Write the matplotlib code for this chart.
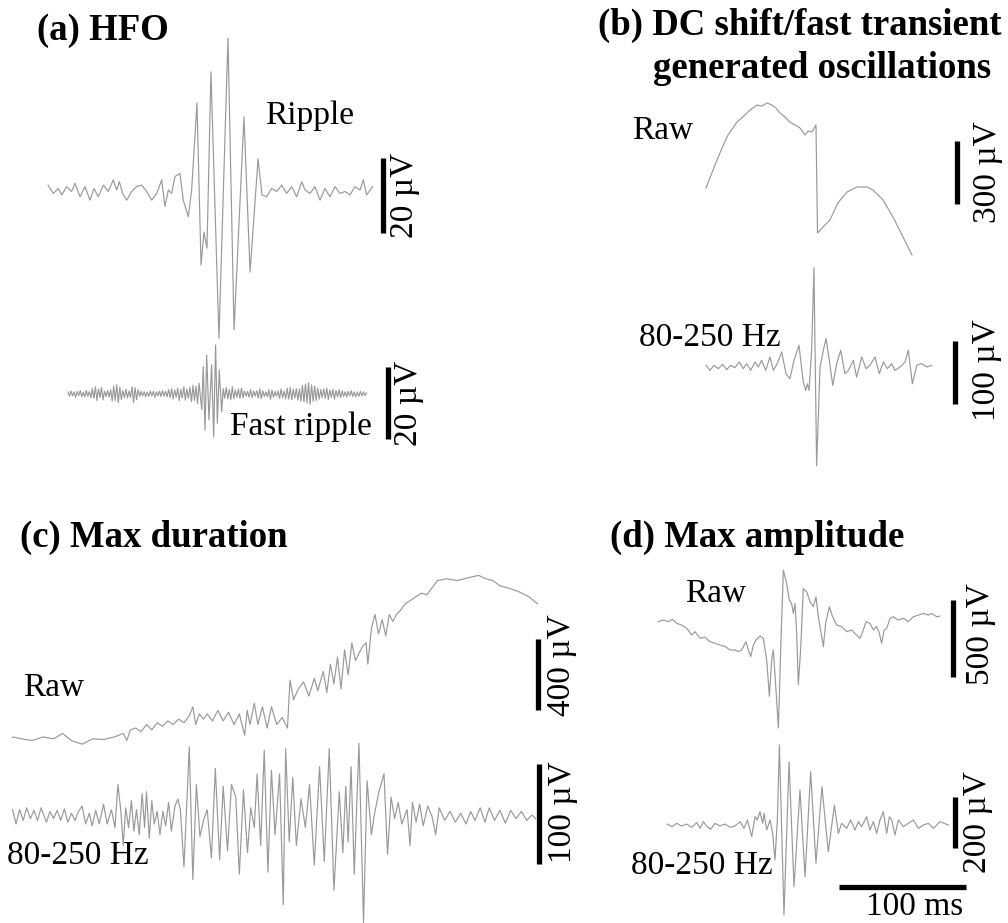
import numpy as np
import matplotlib
matplotlib.use("Agg")
import matplotlib.pyplot as plt

# ---------------- data (time in ms, amplitude in µV) ----------------
# (a) HFO - ripple
ripple_t = [0, 4.2, 8.1, 10.8, 14.7, 18.6, 21.3, 25.2, 29.1, 33.1, 36.2, 39.6, 43.6, 47.5, 51.4, 54.1,
            56.2, 58.8, 62.0, 65.9, 69.8, 73.8, 77.7, 81.6, 85.6, 89.5, 92.1, 94.8, 97.4, 100.0, 103.9,
            106.5, 110.5, 113.1, 117.3, 120.5, 122.8, 125.2, 128.3, 134.6, 141.7, 146.5, 154.3, 159.1,
            165.4, 168.5, 172.2, 176.1, 180.1, 184.0, 187.9, 191.9, 195.8, 199.8, 202.4, 206.3, 210.2,
            214.2, 218.1, 222.0, 226.0, 229.9, 233.9, 237.8, 241.7, 245.7, 248.3, 250.9, 255.7]
ripple_v = [1.3, -0.9, 0.4, -1.3, 0.9, -0.4, 1.8, -1.8, 0.9, -2.7, 0.4, -1.8, 1.3, -0.4, 2.7, 0,
            2.2, -0.9, -2.7, -0.4, 0.9, 1.3, -0.4, -2.7, -0.9, 2.7, -4.4, 0, -0.9, 3.6, 4.4,
            -2.7, -7.1, 0, 23.2, -20, -11.2, -15.5, 31.5, -39.5, 40.5, -37.3, 19.5, -21.9,
            8.3, -1.3, -1.8, 0.4, -0.4, 1.3, -0.9, 0.9, -1.8, 2.2, 0, -0.9, 0.9,
            -2.7, 0.4, -1.8, 0.9, -0.9, -0.4, -1.3, 0.9, 0, 2.7, -1.3, 0.9]

# (a) HFO - fast ripple (background sampled every fr_dt ms, burst read point by point)
fr_dt = 1.2
fr_pre_v = [0.5, -0.6, 0.8, -0.5, 0.6, -0.9, 0.7, -0.4, 0.9, -0.7, 0.5, -0.8, 1.0, -0.6, 0.7, -1.0,
            1.5, -1.2, 2.0, -1.8, 1.4, -1.0, 1.8, -1.6,
            0.8, -0.7, 1.0, -0.9, 1.2,
            -2.0, 2.2, -1.8, 2.6, -2.4, 1.9, -1.5,
            0.9, -1.0, 1.3, -1.1, 0.8, -0.9,
            2.0, -2.3, 1.8, -1.6, 1.2,
            -0.6, 0.7, -0.5, 0.6, -0.8, 0.5, -0.6, 0.8, -0.5, 0.7, -0.9, 0.6, -0.5, 0.8, -0.7, 0.9, -0.6, 0.7, -0.8,
            1.2, -1.0, 1.5, -1.4, 1.1, -0.9, 1.6, -1.8, 1.3, -1.1, 2.0, -1.7, 1.4, -1.2, 1.9, -2.1, 2.4, -1.8, 2.2, -2.6, 3.0]
fr_burst_t = [105.3, 106.5, 107.9, 109.2, 111.0, 113.1, 114.7, 116.2, 117.6, 119.1, 121.0]
fr_burst_v = [-4.4, 7.6, -10.0, 10.8, -7.2, 8.1, -11.9, 13.6, -8.1, 6.7, -5.0]
fr_post_start = 122.2
fr_post_v = [1.5, -1.2, 1.8, -1.4, 1.2, -1.6, 2.0, -1.3, 1.1, -0.9, 1.4, -1.2, 1.6, -1.0, 0.8,
             -0.6, 0.7, -0.9, 1.2, -1.0, 0.8, -0.6, 0.9, -1.1, 1.4, -1.3, 0.9, -0.7,
             0.6, -0.8, 1.2, -1.5, 1.1, -0.9, 0.7, -0.6, 0.9, -1.2, 1.4, -1.0, 0.8,
             -1.3, 1.6, -1.4, 1.8, -1.6, 1.3, -1.1, 1.5, -1.7, 1.4,
             -2.0, 2.4, -2.2, 2.8, -2.5, 3.1, -2.9, 2.5, -2.0, 2.2, -1.8, 1.6, -1.4, 1.2,
             -1.0, 1.4, -1.2, 1.6, -1.5, 1.1, -0.9, 1.3, -1.4, 1.0, -0.8, 1.2, -1.0, 0.9, -0.7,
             0.6, -0.8, 0.7, -0.5, 0.9, -0.7, 0.6, -0.8, 0.5, -0.6, 0.7, -0.5, 0.6, -0.4, 0.3]

# (b) DC shift / fast transient
dc_raw_t = [0, 7.1, 12.6, 17.3, 24.4, 30.7, 34.6, 40.2, 44.1, 48.0, 52.0, 55.1, 58.3, 62.2, 66.1, 70.1,
            74.0, 78.0, 80.3, 83.5, 86.6, 87.8, 92.1, 97.6, 103.9, 111.0, 118.9, 126.8, 131.5, 139.4,
            147.2, 155.1, 162.2]
dc_raw_v = [0, 110, 190, 252, 314, 348, 371, 395, 390, 405, 395, 381, 357, 338, 314, 300,
            286, 252, 271, 267, 300, -214, -186, -152, -71, -19, 5, 5, -10, -57,
            -138, -233, -319]
dc_filt_t = [0, 3.1, 6.3, 9.7, 13.1, 16.3, 19.4, 22.8, 26.2, 29.4, 32.0, 35.2, 38.6, 41.2, 43.8, 47.0,
             50.4, 53.0, 56.1, 59.6, 63.0, 66.1, 69.3, 73.2, 76.6, 78.5, 79.8, 81.1, 83.2, 85.0, 87.1,
             89.8, 92.4, 94.5, 97.1, 99.8, 102.9, 106.1, 109.4, 112.1, 116.0, 118.6, 122.6, 126.0,
             129.1, 133.1, 136.5, 139.6, 142.8, 146.2, 148.8, 152.8, 156.7, 159.3, 162.5, 166.0,
             169.8, 173.8, 177.7]
dc_filt_v = [2.6, -5.3, 2.6, -2.6, 4.2, -4.2, 2.6, -1.1, 7.9, -2.6, 5.3, -5.3, 7.9, 0, 10.6, -5.3,
             15.9, -5.3, 5.3, 23.8, -10.6, -18.5, 10.6, 34.4, -23.8, -37.0, -26.5, -37.0, 26.5, 157, -156,
             0, 26.5, 45.0, 10.6, -29.1, 5.3, 26.5, -10.6, -5.3, 10.6, -15.9, 15.9, -2.6,
             2.6, 15.9, -10.6, 7.9, -2.6, 5.3, -5.3, 0, 7.9, 26.5, -26.5, 2.6,
             5.3, 0, 2.6]

# (c) Max duration
dur_raw_t = [0, 7.0, 15.5, 23.9, 32.3, 39.4, 46.4, 54.8, 63.3, 71.7, 80.1, 87.2, 90.0, 92.8, 97.0, 101.2,
             105.5, 109.7, 113.9, 118.1, 122.3, 126.5, 130.8, 135.0, 139.2, 142.0, 144.3, 147.1, 150.4,
             153.3, 157.5, 161.7, 165.9, 170.1, 174.4, 178.6, 182.8, 184.8, 187.0, 190.4, 193.2, 196.8,
             200.5, 203.9, 208.1, 212.3, 216.5, 218.5, 221.3, 225.0, 229.2, 233.4, 237.6, 240.4, 244.7,
             247.5, 250.3, 253.1, 255.9, 258.7, 261.5, 264.3, 267.2, 270.0, 272.8, 275.6, 278.4, 279.8,
             282.6, 285.4, 288.2, 291.1, 293.9, 296.7, 299.5, 302.3, 305.1, 309.3, 313.6, 317.8, 322.0,
             326.2, 330.4, 334.6, 341.7, 350.1, 358.5, 367.0, 372.6, 378.2, 383.9, 389.5, 397.9, 406.4,
             413.4]
dur_raw_v = [0, -10, -20, 0, -10, 20, -20, -40, -10, -14, 0, 20, -20, 40, 50, 30,
             70, 40, 80, 60, 90, 70, 100, 80, 119, 169, 70, 129, 100,
             129, 90, 149, 90, 139, 70, 129, 10, 149, 70, 189, 70, 169,
             50, 169, 70, 109, 50, 318, 209, 269, 308, 229, 328, 259, 368,
             249, 408, 298, 448, 269, 488, 348, 527, 428, 468, 507, 527, 408,
             607, 686, 577, 657, 567, 686, 647, 686, 706, 746, 766, 786, 806,
             796, 836, 876, 886, 876, 891, 905, 886, 876, 846, 836, 816, 786,
             746]
dur_filt_t = [0, 2.8, 5.6, 8.4, 11.2, 14.1, 16.9, 19.7, 22.5, 26.7, 29.5, 32.3, 35.2, 38.0, 40.8, 43.6,
              46.4, 49.2, 52.0, 54.8, 57.6, 60.5, 62.7, 65.5, 68.3, 71.7, 74.5, 77.9, 80.7, 83.0, 85.2,
              87.2, 89.1, 91.4, 93.6, 95.6, 97.6, 99.8, 102.1, 104.0, 105.5, 107.7, 109.7, 111.6, 113.9,
              116.1, 118.4, 120.6, 122.9, 125.1, 127.9, 130.2, 132.2, 135.0, 139.2, 142.0, 144.8, 147.6,
              150.4, 153.3, 156.6, 159.7, 163.1, 165.9, 169.3, 172.4, 175.8, 178.6, 181.9, 185.0, 187.6,
              190.4, 192.6, 195.4, 198.2, 201.1, 203.9, 206.7, 210.3, 213.2, 215.1, 217.9, 220.7, 223.5,
              227.2, 230.6, 233.9, 237.6, 241.8, 245.5, 249.4, 253.1, 255.9, 257.3, 260.1, 262.4, 264.3,
              266.6, 269.1, 272.8, 276.4, 279.2, 282.6, 284.9, 288.2, 292.5, 295.3, 298.1, 300.9, 303.7,
              306.5, 310.7, 313.0, 314.9, 317.8, 320.6, 323.4, 327.0, 330.4, 333.2, 336.0, 340.3, 344.5,
              348.7, 352.9, 357.1, 360.8, 364.1, 368.3, 372.0, 375.4, 379.6, 383.8, 388.1, 392.3, 396.5,
              400.7, 404.9, 409.1, 411.9]
dur_filt_v = [5.4, -9.0, 5.4, -5.4, 7.2, -3.6, 4.7, -5.4, 7.2, -7.2, 3.6, -3.6, 4.7, -5.4, 6.1, -7.2,
              1.8, -5.4, 3.6, 9.0, -9.0, 1.8, -10.8, 4.7, -9.0, 10.8, -9.0, 5.4, -12.5, 30.5, 5.4,
              -30.5, 7.2, -12.5, 14.3, -16.1, 5.4, -19.7, 21.5, -12.5, 23.3, -23.3, 14.3, -9.0, 3.6,
              -19.7, 3.6, -10.8, 12.5, -16.1, 9.0, 16.1, 5.4, -52.0, 68.1, -64.5, 30.5, -21.5,
              -5.4, 5.4, -43.0, 46.6, -44.8, 28.7, -35.8, 30.5, 17.9, -59.1, 25.1, -37.6, 7.2,
              -12.5, 41.2, -30.5, 64.5, -57.3, 44.8, -19.7, 41.2, -89.6, 66.3, -26.9, 37.6, -30.5,
              16.1, -12.5, 30.5, -50.2, 48.4, -46.6, 66.3, -75.3, -9.0, 23.3, -37.6, 28.7, -26.9,
              48.4, -59.1, 71.7, -107.5, 34.1, -19.7, 0, 21.5, 41.2, -39.4, 17.9, -3.6, 12.5,
              -9.0, 5.4, -30.5, 12.5, -7.2, 10.8, -10.8, 9.0, -1.8, -19.7, 7.2, -5.4, 3.6,
              -7.2, 1.8, -9.0, 3.6, -5.4, 7.2, -7.2, 7.2, -5.4, 4.7, -8.2, 4.7, -3.6,
              3.6, -5.4, 0, -3.6]

# (d) Max amplitude
amp_raw_t = [0, 4.2, 8.1, 11.3, 14.7, 18.6, 22.6, 26.5, 29.1, 33.1, 37.0, 40.9, 44.9, 48.8, 52.8, 56.7,
             60.6, 63.3, 65.9, 69.3, 71.1, 73.0, 75.1, 77.2, 80.3, 82.9, 85.6, 87.7, 89.5, 90.8, 92.9,
             94.8, 96.6, 98.7, 101.3, 103.4, 105.2, 106.6, 107.9, 109.2, 110.5, 112.3, 114.4, 117.1,
             119.7, 122.3, 124.4, 126.2, 128.9, 130.2, 132.0, 134.9, 137.5, 140.7, 144.6, 148.6, 152.5,
             156.4, 159.1, 161.7, 163.8, 166.9, 169.6, 172.2, 174.3, 176.1, 178.0, 180.1, 182.7, 185.3,
             189.2, 193.2, 197.1, 201.0, 205.0, 208.9, 212.9, 215.5, 219.4, 222.0]
amp_raw_v = [0, 10.8, 0, 15.2, -10.8, -21.7, -43.3, -86.6, -64.9, -108, -101, -130, -141, -152, -162, -184,
             -184, -195, -184, -130, -184, -227, -152, -119, -93, -108, -249, -487, -249, -184, -444,
             -693, -184, 336, 249, 141, 119, 54, 119, -76, -411, -184, 216, 195,
             130, 97, 162, 32, -97, -162, -11, 97, 32, -22, -32, -65, -54,
             -87, -108, -54, 0, -11, -54, -32, -76, -141, -54, -43, 22, 32,
             11, 22, 0, 32, 43, 54, 43, 54, 32, 37]
amp_filt_t = [0, 3.7, 7.6, 11.5, 15.5, 19.4, 23.4, 26.0, 28.6, 31.2, 34.4, 37.8, 41.7, 45.7, 49.6, 53.5,
              57.5, 60.6, 63.3, 66.7, 69.3, 71.1, 73.2, 75.3, 76.4, 78.5, 81.1, 83.2, 85.0, 86.9, 88.5,
              92.1, 96.1, 100.0, 104.7, 108.7, 113.1, 117.3, 122.0, 127.0, 131.8, 134.9, 137.5, 141.5,
              144.6, 148.0, 150.7, 153.3, 157.2, 159.8, 162.5, 165.1, 167.7, 170.3, 173.0, 175.1, 176.9,
              179.5, 182.2, 186.1, 190.0, 194.0, 197.9, 201.8, 205.8, 209.7, 215.0, 221.5]
amp_filt_v = [3.9, -6.5, 6.5, -3.9, 3.9, -9.2, 9.2, -13.1, 13.1, -3.9, -17.0, 6.5, -3.9, 3.9, -9.2, -3.9,
              13.1, -13.1, 19.6, -45.7, 32.7, 19.6, 52.3, 6.5, 45.7, -19.6, 19.6, -32.7, -137, 19.6, 314,
              -353, 248, -242, 137, -203, 209, -150, 150, -105, 78, -33, 6.5, -13.1,
              19.6, -19.6, 13.1, -6.5, 32.7, -19.6, 13.1, -32.7, 19.6, 52.3, -32.7, 32.7, 19.6,
              -39.2, 19.6, -6.5, 6.5, 19.6, -13.1, 0, 6.5, -13.1, 13.1, 0]

# scale bar sizes
bar_ripple_uv = 20
bar_fast_uv = 20
bar_dc_raw_uv = 300
bar_dc_filt_uv = 100
bar_dur_raw_uv = 400
bar_dur_filt_uv = 100
bar_amp_raw_uv = 500
bar_amp_filt_uv = 200
bar_time_ms = 100

# ---------------- drawing ----------------
W, H = 1008, 923
fig = plt.figure(figsize=(W / 100, H / 100), dpi=100)
fig.patch.set_facecolor("white")

SERIF = ["Liberation Serif", "DejaVu Serif"]
TRACE = "#999999"
TLW = 0.85
PXMS = 1.27  # pixels per ms
TITLE_FS = 26.5
LABEL_FS = 24


def trace_ax(x0, ybase, pxuv, box):
    l, t, r, b = box
    ax = fig.add_axes([l / W, 1 - b / H, (r - l) / W, (b - t) / H])
    ax.set_xlim((l - x0) / PXMS, (r - x0) / PXMS)
    ax.set_ylim((ybase - b) / pxuv, (ybase - t) / pxuv)
    ax.axis("off")
    ax.patch.set_alpha(0)
    return ax


def draw_trace(ax, t, v):
    ax.plot(t, v, color=TRACE, lw=TLW, solid_joinstyle="round", clip_on=False)


def vbar(ax, x0, ybase, pxuv, xpx, ybot_px, amount):
    tb = (xpx - x0) / PXMS
    vb = (ybase - ybot_px) / pxuv
    ax.plot([tb, tb], [vb, vb + amount], color="black", lw=3.8,
            solid_capstyle="butt", clip_on=False)


def txt(x, y, s, size=LABEL_FS, weight="normal", rot=0, ha="center"):
    fig.text(x / W, 1 - y / H, s, fontsize=size, fontweight=weight, family=SERIF,
             rotation=rot, ha=ha, va="center")


# (a) ripple
ax = trace_ax(48, 190, 3.75, (40, 30, 420, 345))
draw_trace(ax, ripple_t, ripple_v)
vbar(ax, 48, 190, 3.75, 383, 233, bar_ripple_uv)

# (a) fast ripple
fr_pre_t = np.arange(len(fr_pre_v)) * fr_dt
fr_post_t = fr_post_start + np.arange(len(fr_post_v)) * fr_dt
fr_t = np.concatenate([fr_pre_t, fr_burst_t, fr_post_t])
fr_v = np.concatenate([fr_pre_v, fr_burst_v, fr_post_v])
ax = trace_ax(68, 394, 3.6, (60, 340, 420, 450))
draw_trace(ax, fr_t, fr_v)
vbar(ax, 68, 394, 3.6, 388, 439, bar_fast_uv)

# (b) raw
ax = trace_ax(706, 188, 0.21, (690, 90, 1000, 270))
draw_trace(ax, dc_raw_t, dc_raw_v)
vbar(ax, 706, 188, 0.21, 957, 204, bar_dc_raw_uv)

# (b) filtered
ax = trace_ax(706, 367, 0.633, (690, 260, 1000, 470))
draw_trace(ax, dc_filt_t, dc_filt_v)
vbar(ax, 706, 367, 0.633, 955, 404, bar_dc_filt_uv)

# (c) raw
ax = trace_ax(12.5, 737, 0.1786, (5, 570, 560, 750))
draw_trace(ax, dur_raw_t, dur_raw_v)
vbar(ax, 12.5, 737, 0.1786, 538, 710, bar_dur_raw_uv)

# (c) filtered
ax = trace_ax(12.5, 815, 1.0, (5, 740, 560, 925))
draw_trace(ax, dur_filt_t, dur_filt_v)
vbar(ax, 12.5, 815, 1.0, 539, 864, bar_dur_filt_uv)

# (d) raw
ax = trace_ax(658, 621.7, 0.1533, (650, 560, 1000, 740))
draw_trace(ax, amp_raw_t, amp_raw_v)
vbar(ax, 658, 621.7, 0.1533, 953, 677, bar_amp_raw_uv)

# (d) filtered
ax = trace_ax(667, 825, 0.255, (650, 730, 1000, 923))
draw_trace(ax, amp_filt_t, amp_filt_v)
vbar(ax, 667, 825, 0.255, 955, 848, bar_amp_filt_uv)
# time scale bar (100 ms)
tb0 = (839 - 667) / PXMS
yb = (825 - 887) / 0.255
ax.plot([tb0, tb0 + bar_time_ms], [yb, yb], color="black", lw=3.8,
        solid_capstyle="butt", clip_on=False)

# ---------------- texts ----------------
txt(37, 31, "(a) HFO", size=TITLE_FS, weight="bold", ha="left")
txt(800, 25, "(b) DC shift/fast transient", size=TITLE_FS, weight="bold")
txt(822, 69, "generated oscillations", size=TITLE_FS, weight="bold")
txt(20, 537, "(c) Max duration", size=TITLE_FS, weight="bold", ha="left")
txt(610, 537, "(d) Max amplitude", size=TITLE_FS, weight="bold", ha="left")

txt(310, 116, "Ripple")
txt(301, 427, "Fast ripple")
txt(663, 131, "Raw")
txt(710, 338, "80-250 Hz")
txt(54, 688, "Raw")
txt(78, 856, "80-250 Hz")
txt(716, 594, "Raw")
txt(702, 866, "80-250 Hz")
txt(915, 907, "100 ms")

txt(405, 195, "20 µV", rot=90)
txt(409, 403, "20 µV", rot=90)
txt(988, 172, "300 µV", rot=90)
txt(987, 370, "100 µV", rot=90)
txt(562, 665, "400 µV", rot=90)
txt(563, 812, "100 µV", rot=90)
txt(981, 634, "500 µV", rot=90)
txt(978, 822, "200 µV", rot=90)

fig.savefig("out.png", dpi=100, facecolor="white")
